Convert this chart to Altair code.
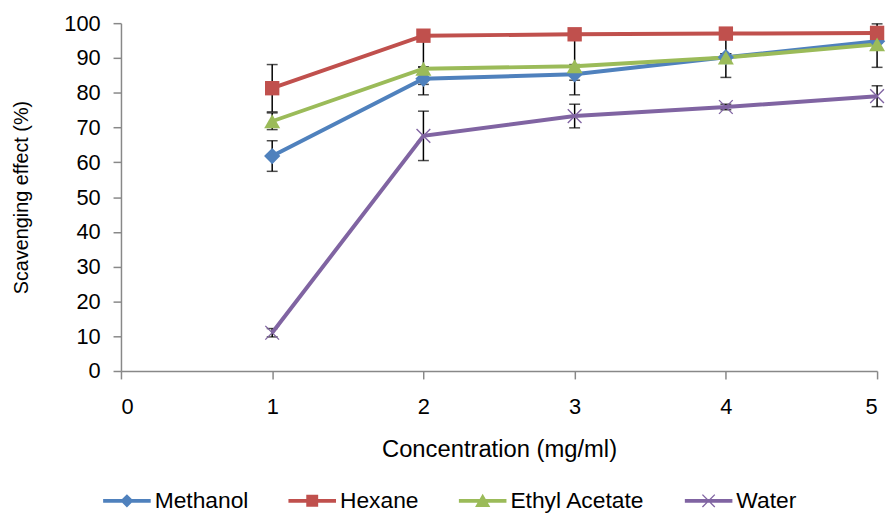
import altair as alt
import pandas as pd

# ---- data ----
conc = [1, 2, 3, 4, 5]
series_names = ["Methanol", "Hexane", "Ethyl Acetate", "Water"]
methanol = [61.8, 84.0, 85.3, 90.2, 94.8]
methanol_err_plus = [4.4, 0.5, 0.5, 1.0, 0.5]
methanol_err_minus = [4.4, 4.6, 5.9, 1.0, 0.5]
hexane = [81.3, 96.4, 96.8, 97.0, 97.2]
hexane_err_plus = [6.8, 0.5, 0.5, 0.5, 2.6]
hexane_err_minus = [6.8, 9.0, 9.0, 5.8, 2.6]
ethyl = [71.8, 86.9, 87.6, 90.1, 93.9]
ethyl_err_plus = [2.4, 0.5, 0.5, 0.5, 0.5]
ethyl_err_minus = [2.4, 4.5, 4.0, 5.7, 6.6]
water = [11.0, 67.6, 73.3, 75.9, 79.0]
water_err_plus = [1.2, 7.1, 3.4, 0.8, 3.0]
water_err_minus = [1.2, 7.1, 3.4, 0.8, 3.0]
colors = ["#4F81BD", "#C0504D", "#9BBB59", "#8064A2"]
x_ticks = [0, 1, 2, 3, 4, 5]
y_ticks = [0, 10, 20, 30, 40, 50, 60, 70, 80, 90, 100]

values = [methanol, hexane, ethyl, water]
plus = [methanol_err_plus, hexane_err_plus, ethyl_err_plus, water_err_plus]
minus = [methanol_err_minus, hexane_err_minus, ethyl_err_minus, water_err_minus]
rows = []
for name, vals, ep, em in zip(series_names, values, plus, minus):
    for c, v, p, m in zip(conc, vals, ep, em):
        rows.append({"series": name, "conc": c, "value": v, "lo": v - m, "hi": v + p})
df = pd.DataFrame(rows)

FONT = "Liberation Sans"

marker_paths = {
    "Methanol": "diamond",
    "Hexane": "square",
    "Ethyl Acetate": "triangle-up",
    "Water": "M-1,-0.87L-0.87,-1L1,0.87L0.87,1Z M-1,0.87L0.87,-1L1,-0.87L-0.87,1Z",
}
marker_sizes = {"Methanol": 270, "Hexane": 210, "Ethyl Acetate": 260, "Water": 220}
line_path = "M-1,-0.08L1,-0.08L1,0.08L-1,0.08Z "
legend_paths = [
    line_path + "M0,-0.28L0.28,0L0,0.28L-0.28,0Z",
    line_path + "M-0.25,-0.25L0.25,-0.25L0.25,0.25L-0.25,0.25Z",
    line_path + "M0,-0.3L0.32,0.26L-0.32,0.26Z",
    line_path + "M-0.28,-0.24L-0.24,-0.28L0.28,0.24L0.24,0.28Z M-0.28,0.24L0.24,-0.28L0.28,-0.24L-0.24,0.28Z",
]

x_axis = alt.Axis(values=x_ticks, title="Concentration (mg/ml)", grid=False, format="d",
                  tickSize=8, labelPadding=18, titlePadding=20, titleFontSize=24)
y_axis = alt.Axis(values=y_ticks, title="Scavenging effect (%)", grid=False,
                  tickSize=8, labelPadding=13, titlePadding=33, titleFontSize=20)
x_scale = alt.Scale(domain=[0, 5], nice=False)
y_scale = alt.Scale(domain=[0, 100], nice=False)


def X():
    return alt.X("conc:Q", scale=x_scale, axis=x_axis)


def Y(field):
    return alt.Y(f"{field}:Q", scale=y_scale, axis=y_axis)


legend_kw = dict(
    title=None, orient="none", legendX=-18, legendY=458, direction="horizontal",
    columns=4, labelFont=FONT, labelFontSize=23, labelColor="black", labelOffset=4,
    symbolSize=2304, symbolStrokeWidth=0, columnPadding=40, padding=0, labelLimit=300,
)

color_scale = alt.Scale(domain=series_names, range=colors)
base = alt.Chart(df)

# legend carrier (first layer so its legend settings win); marks clipped away
legend_layer = base.mark_point(filled=True, size=2304, opacity=1, clip=True).encode(
    x=X(), y=alt.value(-2000),
    color=alt.Color("series:N", scale=color_scale, legend=alt.Legend(**legend_kw)),
    shape=alt.Shape("series:N", scale=alt.Scale(domain=series_names, range=legend_paths),
                    legend=alt.Legend(**legend_kw)),
)

err_rule = base.mark_rule(color="black", strokeWidth=1.5).encode(
    x=X(), y=Y("lo"), y2="hi:Q"
)
caps = base.transform_fold(["lo", "hi"], as_=["end", "yv"]).mark_tick(
    orient="horizontal", color="black", thickness=1.5, size=11
).encode(x=X(), y=Y("yv"))

lines = base.mark_line(strokeWidth=4).encode(
    x=X(), y=Y("value"),
    color=alt.Color("series:N", scale=color_scale),
    order="conc:Q",
)

point_layers = []
for name, col in zip(series_names, colors):
    point_layers.append(
        base.transform_filter(alt.datum.series == name).mark_point(
            shape=marker_paths[name], filled=True, size=marker_sizes[name],
            color=col, opacity=1, strokeWidth=0,
        ).encode(x=X(), y=Y("value"))
    )

chart = alt.layer(legend_layer, err_rule, caps, lines, *point_layers).properties(
    width=763, height=351,
    autosize=alt.AutoSizeParams(type="none"),
    padding={"left": 114, "top": 13, "right": 9, "bottom": 141},
).configure_view(stroke=None).configure_axis(
    domainColor="#888888", domainWidth=1.5, tickColor="#888888", tickWidth=1.5,
    labelFont=FONT, labelFontSize=22, labelColor="black",
    titleFont=FONT, titleColor="black", titleFontWeight="normal",
)

chart.save("out.html", embed_options={"renderer": "svg", "actions": False})
